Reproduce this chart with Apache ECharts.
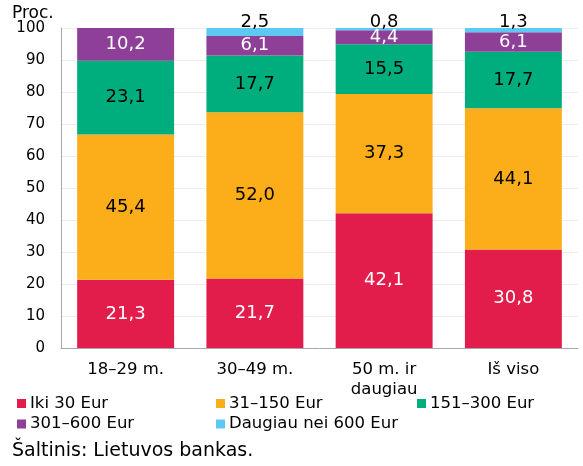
<!DOCTYPE html>
<html>
<head>
<meta charset="utf-8">
<script src="https://cdn.jsdelivr.net/npm/echarts@6/dist/echarts.min.js"></script>
<style>
  html, body { margin: 0; padding: 0; background: #fff; }
  #chart { width: 583px; height: 466px; }
</style>
</head>
<body>
<div id="chart"></div>
<script>
// kategorijos ir reikšmės (proc.)
const categories = ["18–29 m.", "30–49 m.", "50 m. ir\ndaugiau", "Iš viso"];
const iki30 = [21.3, 21.7, 42.1, 30.8];
const eur31_150 = [45.4, 52.0, 37.3, 44.1];
const eur151_300 = [23.1, 17.7, 15.5, 17.7];
const eur301_600 = [10.2, 6.1, 4.4, 6.1];
const virs600 = [0, 2.5, 0.8, 1.3];
const yTicks = [0, 10, 20, 30, 40, 50, 60, 70, 80, 90, 100];

const font = "DejaVu Sans";
const fmt = (p) => (p.value ? p.value.toFixed(1).replace(".", ",") : "");

function mkSeries(name, data, color, labelColor, pos) {
  return {
    name: name,
    type: "bar",
    stack: "total",
    data: data,
    barCategoryGap: "25%",
    itemStyle: { color: color },
    label: {
      show: true,
      position: pos || "inside",
      distance: pos ? -3 : 5,
      color: labelColor,
      fontFamily: font,
      fontSize: 18,
      formatter: fmt,
    },
  };
}

const series = [
  mkSeries("Iki 30 Eur", iki30, "#E31D4B", "#fff"),
  mkSeries("31–150 Eur", eur31_150, "#FBAE1A", "#000"),
  mkSeries("151–300 Eur", eur151_300, "#00AE7D", "#000"),
  mkSeries("301–600 Eur", eur301_600, "#8E3F98", "#fff"),
  mkSeries("Daugiau nei 600 Eur", virs600, "#5DC9F2", "#000", "top"),
];

const legendPos = [
  [17, 395], [216, 395], [417, 395],
  [17, 415.5], [216, 415.5],
];

let myChart = echarts.init(document.getElementById("chart"));
let option = {
  animation: false,
  textStyle: { fontFamily: font },
  grid: { left: 61, right: 5, top: 28, bottom: 118 },
  legend: series.map((s, i) => ({
    data: [s.name],
    left: legendPos[i][0],
    top: legendPos[i][1],
    icon: "rect",
    itemWidth: 9,
    itemHeight: 9,
    itemGap: 4,
    padding: 0,
    textStyle: { fontFamily: font, fontSize: 16.5, color: "#000", padding: [0, 0, 0, -1] },
    selectedMode: false,
  })),
  xAxis: {
    type: "category",
    data: categories,
    axisLine: { lineStyle: { color: "#A6A6A6", width: 1 } },
    axisTick: { show: false },
    axisLabel: { color: "#000", fontFamily: font, fontSize: 16.5, margin: 12, lineHeight: 20, verticalAlign: "top" },
  },
  yAxis: {
    type: "value",
    min: yTicks[0],
    max: yTicks[yTicks.length - 1],
    interval: 10,
    axisLine: { show: true, lineStyle: { color: "#A6A6A6", width: 1 } },
    axisTick: { show: false },
    splitLine: { lineStyle: { color: "#EDEDED" } },
    axisLabel: { color: "#000", fontFamily: font, fontSize: 15, margin: 16 },
  },
  graphic: [
    { type: "text", left: 12, top: 5, style: { text: "Proc.", font: "17px DejaVu Sans", fill: "#000" } },
    { type: "text", left: 12, top: 442, style: { text: "Šaltinis: Lietuvos bankas.", font: "19px DejaVu Sans", fill: "#000" } },
  ],
  series: series,
};
myChart.setOption(option);
</script>
</body>
</html>
